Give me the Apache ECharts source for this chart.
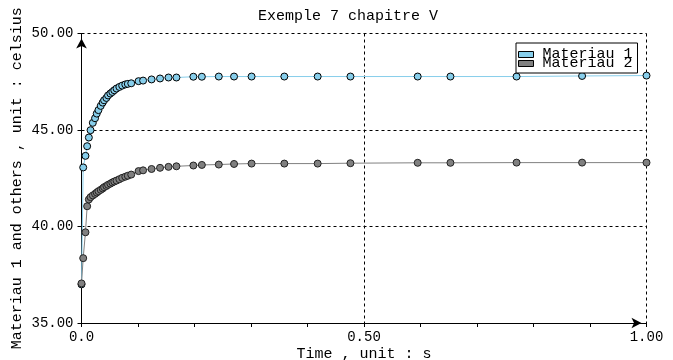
<!DOCTYPE html>
<html>
<head>
<meta charset="utf-8">
<script src="https://cdn.jsdelivr.net/npm/echarts@6/dist/echarts.min.js"></script>
<style>html,body{margin:0;padding:0;background:#fff}#c{width:673px;height:360px}</style>
</head>
<body>
<div id="c"></div>
<script>
var times = [0, 0.003, 0.007, 0.010, 0.013, 0.016, 0.020, 0.024, 0.027, 0.030, 0.034, 0.0375, 0.040, 0.044, 0.047, 0.051, 0.0545, 0.058, 0.062, 0.067, 0.072, 0.0775, 0.082, 0.088, 0.101, 0.109, 0.124, 0.139, 0.154, 0.168, 0.198, 0.213, 0.243, 0.270, 0.301, 0.359, 0.418, 0.476, 0.595, 0.653, 0.770, 0.886, 1.0];
var materiau1 = [37.0, 43.06, 43.66, 44.16, 44.61, 44.99, 45.37, 45.61, 45.85, 46.03, 46.25, 46.42, 46.54, 46.66, 46.79, 46.89, 46.97, 47.06, 47.15, 47.23, 47.30, 47.36, 47.39, 47.42, 47.53, 47.56, 47.62, 47.67, 47.72, 47.72, 47.76, 47.76, 47.77, 47.77, 47.77, 47.77, 47.77, 47.77, 47.77, 47.77, 47.77, 47.80, 47.82];
var materiau2 = [37.05, 38.36, 39.70, 41.05, 41.40, 41.52, 41.61, 41.69, 41.76, 41.83, 41.90, 41.97, 42.04, 42.10, 42.16, 42.22, 42.28, 42.33, 42.38, 42.45, 42.52, 42.58, 42.63, 42.69, 42.87, 42.91, 42.98, 43.04, 43.09, 43.12, 43.16, 43.19, 43.21, 43.24, 43.26, 43.26, 43.26, 43.28, 43.30, 43.30, 43.31, 43.31, 43.31];
var seriesNames = ['Materiau 1', 'Materiau 2'];
var titleText = 'Exemple 7 chapitre V';
var xName = 'Time , unit : s';
var yName = 'Materiau 1 and others , unit : celsius';

var FONT = 'Liberation Mono';
function pairs(vals) { return times.map(function (t, i) { return [t, vals[i]]; }); }

var chart = echarts.init(document.getElementById('c'));
chart.setOption({
  animation: false,
  backgroundColor: '#fff',
  title: {
    text: titleText, left: 253, top: 4,
    textStyle: { fontFamily: FONT, fontSize: 15, fontWeight: 'normal', color: '#000' }
  },
  legend: {
    data: [{ name: seriesNames[0], icon: 'rect' }, { name: seriesNames[1], icon: 'rect' }],
    orient: 'vertical', left: 516, top: 43,
    width: 121,
    padding: [4, 5, 2, 2],
    itemGap: -6, itemWidth: 15, itemHeight: 6,
    backgroundColor: '#fff', borderColor: '#000', borderWidth: 1, borderRadius: 0,
    itemStyle: { borderColor: '#000', borderWidth: 1 },
    textStyle: { fontFamily: FONT, fontSize: 15, color: '#000', padding: [0, 0, 0, 4] }
  },
  grid: { left: 81.5, right: 26.5, top: 33.5, bottom: 37, outerBoundsMode: 'none', containLabel: false },
  xAxis: {
    type: 'value', min: 0, max: 1, interval: 0.5,
    name: xName, nameLocation: 'middle', nameGap: 24, nameMoveOverlap: false,
    nameTextStyle: { fontFamily: FONT, fontSize: 15, color: '#000' },
    axisLine: { lineStyle: { color: '#000', width: 1 }, symbol: ['none', 'arrow'], symbolSize: [8, 10], symbolOffset: [0, -5] },
    axisTick: { show: true, length: 4, lineStyle: { color: '#000' } },
    minorTick: { show: true, splitNumber: 5, length: 4, lineStyle: { color: '#000' } },
    axisLabel: { fontFamily: FONT, fontSize: 14, color: '#000', margin: 7,
      formatter: function (v) { return v === 0 ? '0.0' : v.toFixed(2); } },
    splitLine: { show: true, lineStyle: { color: '#000', type: [3, 3], width: 1 } }
  },
  yAxis: {
    type: 'value', min: 35, max: 50, interval: 5,
    name: yName, nameLocation: 'middle', nameGap: 57, nameMoveOverlap: false,
    nameTextStyle: { fontFamily: FONT, fontSize: 15, color: '#000' },
    axisLine: { show: true, lineStyle: { color: '#000', width: 1 }, symbol: ['none', 'arrow'], symbolSize: [8, 10], symbolOffset: [0, -5] },
    axisTick: { show: true, length: 4, lineStyle: { color: '#000' } },
    axisLabel: { fontFamily: FONT, fontSize: 14, color: '#000', margin: 8,
      formatter: function (v) { return v.toFixed(2); } },
    splitLine: { show: true, lineStyle: { color: '#000', type: [3, 3], width: 1 } }
  },
  series: [
    {
      name: seriesNames[0], type: 'line', data: pairs(materiau1),
      showAllSymbol: true, symbol: 'circle', symbolSize: 7,
      lineStyle: { color: '#87CEEB', width: 1 },
      itemStyle: { color: '#87CEEB', borderColor: '#000', borderWidth: 1 },
      emphasis: { disabled: true }
    },
    {
      name: seriesNames[1], type: 'line', data: pairs(materiau2),
      showAllSymbol: true, symbol: 'circle', symbolSize: 7,
      lineStyle: { color: '#808080', width: 1 },
      itemStyle: { color: '#808080', borderColor: '#222', borderWidth: 1 },
      emphasis: { disabled: true }
    }
  ]
});
</script>
</body>
</html>
